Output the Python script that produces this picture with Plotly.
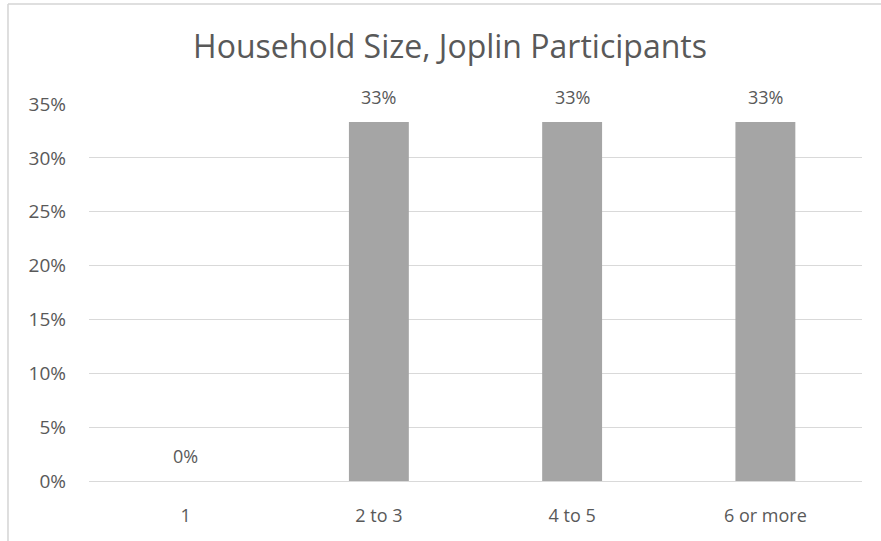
import plotly.graph_objects as go

# Household size distribution
categories = ["1", "2 to 3", "4 to 5", "6 or more"]
shares = [0.0, 33.33, 33.33, 33.33]
y_ticks = [0, 5, 10, 15, 20, 25, 30, 35]
y_tick_labels = [f"{t}%" for t in y_ticks]

TEXT = "#595959"
GRID = "#D9D9D9"
BAR = "#A5A5A5"
FONT = "Open Sans"

fig = go.Figure(
    go.Bar(
        x=categories,
        y=shares,
        marker=dict(color=BAR, line=dict(width=0)),
        width=0.31,
        hoverinfo="skip",
    )
)

# value labels above each bar (category positions by index)
for i, val in enumerate(shares):
    fig.add_annotation(
        x=i, y=val, text=f"{val:.0f}%", showarrow=False,
        yanchor="middle", yshift=25,
        font=dict(family=FONT, size=18, color=TEXT),
    )

# chart frame (top and left edges)
frame = dict(type="line", xref="paper", yref="paper",
             line=dict(color="#D4D4D4", width=1.5), layer="above")
fig.add_shape(x0=-0.1048, x1=1.1, y0=1.2653, y1=1.2653, **frame)
fig.add_shape(x0=-0.1048, x1=-0.1048, y0=1.2653, y1=-0.2, **frame)

fig.update_layout(
    width=881, height=541,
    margin=dict(l=89, r=19, t=104, b=60),
    paper_bgcolor="white", plot_bgcolor="white",
    showlegend=False,
    title=dict(
        text="Household Size, Joplin Participants",
        x=450 / 881, xref="container", xanchor="center",
        y=1 - 47 / 541, yanchor="middle",
        font=dict(family=FONT, size=32, color=TEXT),
    ),
    xaxis=dict(
        showgrid=False, zeroline=False, showline=False,
        ticks="", ticklabelstandoff=22,
        tickfont=dict(family=FONT, size=18, color=TEXT),
    ),
    yaxis=dict(
        range=[0, 35], tickmode="array",
        tickvals=y_ticks, ticktext=y_tick_labels,
        showgrid=True, gridcolor=GRID, gridwidth=1,
        zeroline=True, zerolinecolor=GRID, zerolinewidth=1,
        showline=False, ticks="", ticklabelstandoff=22,
        tickfont=dict(family=FONT, size=19, color=TEXT),
    ),
)

fig.write_html("out.html")
